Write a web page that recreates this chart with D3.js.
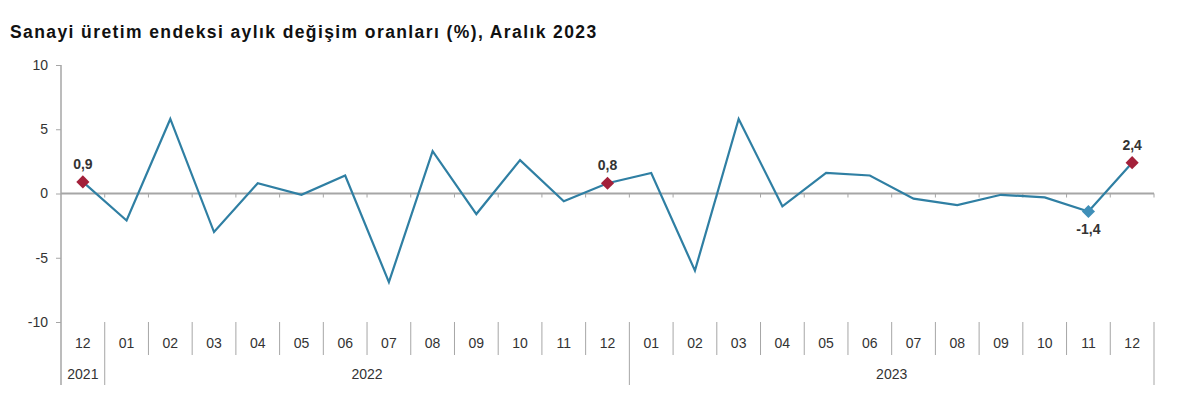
<!DOCTYPE html>
<meta charset="utf-8">
<script src="https://d3js.org/d3.v7.min.js"></script>
<style>
  body { margin: 0; background: #fff; }
  text { font-family: "Liberation Sans", Arial, sans-serif; }
</style>
<div id="chart"></div>
<script>

// months on the axis and the year each one belongs to
var months = ["12","01","02","03","04","05","06","07","08","09","10","11","12",
              "01","02","03","04","05","06","07","08","09","10","11","12"];
var years  = ["2021","2022","2022","2022","2022","2022","2022","2022","2022","2022","2022","2022","2022",
              "2023","2023","2023","2023","2023","2023","2023","2023","2023","2023","2023","2023"];
// monthly change, %
var values = [0.9, -2.1, 5.8, -3.0, 0.8, -0.1, 1.4, -6.9, 3.3, -1.6, 2.6, -0.6, 0.8,
              1.6, -6.0, 5.8, -1.0, 1.6, 1.4, -0.4, -0.9, -0.1, -0.3, -1.4, 2.4];
var yTicks = [-10, -5, 0, 5, 10];
// points that get a marker and a value label
var highlighted = [0, 12, 23, 24];

var width = 1200, height = 416;
var margin = {top: 65, right: 46, bottom: 94, left: 61};

var svg = d3.select("#chart").append("svg")
    .attr("width", width)
    .attr("height", height);

svg.append("text")
  .attr("x", 10)
  .attr("y", 38)
  .attr("font-size", "17.5px")
  .attr("font-weight", "bold")
  .attr("letter-spacing", "1.4px")
  .attr("fill", "#111")
  .text("Sanayi üretim endeksi aylık değişim oranları (%), Aralık 2023");

var x = d3.scaleBand()
  .domain(d3.range(values.length))
  .range([margin.left, width - margin.right]);

var y = d3.scaleLinear()
  .domain([-10, 10])
  .range([height - margin.bottom, margin.top]);

var axisColor = "#a6a6a6";
var plotBottom = y(-10);

// y axis
var yAxis = svg.append("g")
  .attr("transform", "translate(" + margin.left + ",0)")
  .call(d3.axisLeft(y).tickValues(yTicks).tickSize(5).tickPadding(8)
        .tickFormat(function(d) { return String(d); }));
yAxis.select(".domain").remove();
yAxis.selectAll("line").attr("stroke", axisColor);
yAxis.selectAll("text").attr("font-size", "14px").attr("fill", "#333");

// left vertical line running through category area
svg.append("line")
  .attr("x1", margin.left).attr("x2", margin.left)
  .attr("y1", y(10)).attr("y2", plotBottom + 63)
  .attr("stroke", axisColor).attr("stroke-width", 1.5);

// zero line with small ticks at category borders
svg.append("line")
  .attr("x1", margin.left).attr("x2", width - margin.right)
  .attr("y1", y(0)).attr("y2", y(0))
  .attr("stroke", axisColor).attr("stroke-width", 2);
svg.append("g").selectAll("line")
  .data(d3.range(1, values.length + 1))
  .join("line")
    .attr("x1", function(i) { return i < values.length ? x(i) : width - margin.right; })
    .attr("x2", function(i) { return i < values.length ? x(i) : width - margin.right; })
    .attr("y1", y(0)).attr("y2", y(0) + 4)
    .attr("stroke", axisColor);

// category separators; longer where the year changes
svg.append("g").selectAll("line")
  .data(d3.range(1, values.length + 1))
  .join("line")
    .attr("x1", function(i) { return i < values.length ? x(i) : width - margin.right; })
    .attr("x2", function(i) { return i < values.length ? x(i) : width - margin.right; })
    .attr("y1", plotBottom)
    .attr("y2", function(i) {
      var yearEnd = i === values.length || years[i] !== years[i - 1];
      return yearEnd ? plotBottom + 63 : plotBottom + 33;
    })
    .attr("stroke", axisColor);

svg.append("g").selectAll("text")
  .data(months)
  .join("text")
    .attr("x", function(d, i) { return x(i) + x.bandwidth() / 2; })
    .attr("y", plotBottom + 26)
    .attr("text-anchor", "middle")
    .attr("font-size", "14px")
    .attr("fill", "#333")
    .text(function(d) { return d; });

// year group labels
var groups = d3.groups(d3.range(years.length), function(i) { return years[i]; });
svg.append("g").selectAll("text")
  .data(groups)
  .join("text")
    .attr("x", function(g) {
      var a = x(g[1][0]), b = x(g[1][g[1].length - 1]) + x.bandwidth();
      return (a + b) / 2;
    })
    .attr("y", plotBottom + 57)
    .attr("text-anchor", "middle")
    .attr("font-size", "14px")
    .attr("fill", "#333")
    .text(function(g) { return g[0]; });

// the line
var cx = function(i) { return x(i) + x.bandwidth() / 2; };
svg.append("path")
  .datum(values)
  .attr("fill", "none")
  .attr("stroke", "#2f7fa3")
  .attr("stroke-width", 2.2)
  .attr("stroke-linejoin", "miter")
  .attr("d", d3.line().x(function(d, i) { return cx(i); }).y(function(d) { return y(d); }));

var fmt = function(v) { return d3.format(".1f")(v).replace(".", ",").replace("−", "-"); };

// december points are red, the other labelled point blue
svg.append("g").selectAll("path")
  .data(highlighted)
  .join("path")
    .attr("transform", function(i) { return "translate(" + cx(i) + "," + y(values[i]) + ")"; })
    .attr("d", d3.symbol(d3.symbolDiamond2, 110))
    .attr("fill", function(i) { return months[i] === "12" ? "#a3203a" : "#3f8fb8"; });

svg.append("g").selectAll("text")
  .data(highlighted)
  .join("text")
    .attr("x", function(i) { return cx(i); })
    .attr("y", function(i) { return y(values[i]) + (values[i] < 0 ? 23 : -13); })
    .attr("text-anchor", "middle")
    .attr("font-size", "14px")
    .attr("font-weight", "bold")
    .attr("fill", "#333")
    .text(function(i) { return fmt(values[i]); });

</script>
